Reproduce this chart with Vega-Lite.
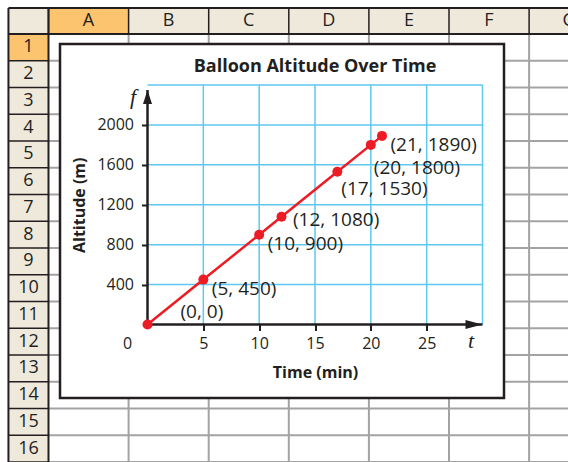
{
  "$schema": "https://vega.github.io/schema/vega-lite/v6.json",
  "width": 335,
  "height": 239.5,
  "autosize": {"type": "none"},
  "padding": {"left": 147.5, "top": 85, "right": 85.5, "bottom": 137.5},
  "background": "white",
  "config": {
    "view": {"stroke": null},
    "font": "Open Sans",
    "axis": {
      "domain": false, "grid": false,
      "tickColor": "#231f20", "tickWidth": 2, "tickSize": 6,
      "labelFont": "Open Sans", "labelFontSize": 16, "labelColor": "#231f20",
      "labelFlush": false, "labelOverlap": false,
      "titleFont": "Open Sans", "titleFontSize": 16, "titleFontWeight": "bold", "titleColor": "#231f20"
    },
    "axisX": {"labelPadding": 5, "titlePadding": 13},
    "axisY": {"labelPadding": 8, "titlePadding": 9}
  },
  "datasets": {
    "balloon": [
      {"t": 0, "alt": 0, "label": "(0, 0)"},
      {"t": 5, "alt": 450, "label": "(5, 450)"},
      {"t": 10, "alt": 900, "label": "(10, 900)"},
      {"t": 12, "alt": 1080, "label": "(12, 1080)"},
      {"t": 17, "alt": 1530, "label": "(17, 1530)"},
      {"t": 20, "alt": 1800, "label": "(20, 1800)"},
      {"t": 21, "alt": 1890, "label": "(21, 1890)"}
    ],
    "gridT": [{"t": 5}, {"t": 10}, {"t": 15}, {"t": 20}, {"t": 25}, {"t": 30}],
    "gridAlt": [{"alt": 400}, {"alt": 800}, {"alt": 1200}, {"alt": 1600}, {"alt": 2000}, {"alt": 2400}],
    "axesLines": [
      {"t": 0, "alt": 0, "t2": 30, "alt2": 0},
      {"t": 0, "alt": 0, "t2": 0, "alt2": 2350}
    ],
    "arrows": [
      {"t": 30, "alt": 0, "dir": "right"},
      {"t": 0, "alt": 2350, "dir": "up"}
    ],
    "letters": [
      {"t": 0, "alt": 2400, "txt": "f"},
      {"t": 30, "alt": 0, "txt": "t"}
    ],
    "originLabel": [{"t": 0, "alt": 0, "txt": "0"}],
    "titleRow": [{"t": 15, "alt": 2400, "txt": "Balloon Altitude Over Time"}],
    "sheetFills": [
      {"x0": -0.5, "x1": 7, "y0": -0.97, "y1": 0, "part": "header"},
      {"x0": -0.5, "x1": 0, "y0": 0, "y1": 16, "part": "header"},
      {"x0": 0, "x1": 1, "y0": -0.97, "y1": 0, "part": "active"},
      {"x0": -0.5, "x1": 0, "y0": 0, "y1": 1, "part": "active"}
    ],
    "sheetCols": [
      {"col": "A", "i": 0}, {"col": "B", "i": 1}, {"col": "C", "i": 2}, {"col": "D", "i": 3},
      {"col": "E", "i": 4}, {"col": "F", "i": 5}, {"col": "G", "i": 6}
    ],
    "sheetRows": [
      {"row": 1}, {"row": 2}, {"row": 3}, {"row": 4}, {"row": 5}, {"row": 6}, {"row": 7}, {"row": 8},
      {"row": 9}, {"row": 10}, {"row": 11}, {"row": 12}, {"row": 13}, {"row": 14}, {"row": 15}, {"row": 16}
    ],
    "sheetFrame": [
      {"x0": -0.5, "x1": -0.5, "y0": -0.97, "y1": 16},
      {"x0": 0, "x1": 0, "y0": -0.97, "y1": 16},
      {"x0": -0.5, "x1": 7, "y0": -0.97, "y1": -0.97},
      {"x0": -0.5, "x1": 7, "y0": 0, "y1": 0}
    ],
    "chartFrame": [{"x0": 0.1436, "x1": 5.6866, "y0": 0.3738, "y1": 13.607}]
  },
  "layer": [
    {
      "layer": [
        {
          "data": {"name": "sheetFills"},
          "mark": {"type": "rect"},
          "encoding": {
            "x": {"field": "x0", "type": "quantitative", "scale": {"domain": [1.236, 5.4182], "nice": false, "zero": false}, "axis": null},
            "x2": {"field": "x1"},
            "y": {"field": "y0", "type": "quantitative", "scale": {"domain": [1.9065, 10.8598], "reverse": true, "nice": false, "zero": false}, "axis": null},
            "y2": {"field": "y1"},
            "color": {"field": "part", "type": "nominal", "scale": {"domain": ["header", "active"], "range": ["#efe9dc", "#fcc46f"]}, "legend": null}
          }
        },
        {
          "data": {"name": "sheetCols"},
          "transform": [{"filter": "datum.i > 0"}],
          "mark": {"type": "rule", "color": "#a3a3a3", "strokeWidth": 2},
          "encoding": {
            "x": {"field": "i", "type": "quantitative", "scale": {"domain": [1.236, 5.4182], "nice": false, "zero": false}, "axis": null},
            "y": {"datum": 0, "type": "quantitative", "scale": {"domain": [1.9065, 10.8598], "reverse": true, "nice": false, "zero": false}, "axis": null},
            "y2": {"datum": 16}
          }
        },
        {
          "data": {"name": "sheetRows"},
          "mark": {"type": "rule", "color": "#a3a3a3", "strokeWidth": 2},
          "encoding": {
            "y": {"field": "row", "type": "quantitative", "scale": {"domain": [1.9065, 10.8598], "reverse": true, "nice": false, "zero": false}, "axis": null},
            "x": {"datum": 0, "type": "quantitative", "scale": {"domain": [1.236, 5.4182], "nice": false, "zero": false}, "axis": null},
            "x2": {"datum": 7}
          }
        },
        {
          "data": {"name": "sheetCols"},
          "mark": {"type": "rule", "color": "#231f20", "strokeWidth": 1.5},
          "encoding": {
            "x": {"field": "i", "type": "quantitative", "scale": {"domain": [1.236, 5.4182], "nice": false, "zero": false}, "axis": null},
            "y": {"datum": -0.97, "type": "quantitative", "scale": {"domain": [1.9065, 10.8598], "reverse": true, "nice": false, "zero": false}, "axis": null},
            "y2": {"datum": 0}
          }
        },
        {
          "data": {"name": "sheetRows"},
          "mark": {"type": "rule", "color": "#231f20", "strokeWidth": 1.5},
          "encoding": {
            "y": {"field": "row", "type": "quantitative", "scale": {"domain": [1.9065, 10.8598], "reverse": true, "nice": false, "zero": false}, "axis": null},
            "x": {"datum": -0.5, "type": "quantitative", "scale": {"domain": [1.236, 5.4182], "nice": false, "zero": false}, "axis": null},
            "x2": {"datum": 0}
          }
        },
        {
          "data": {"name": "sheetFrame"},
          "mark": {"type": "rule", "color": "#231f20", "strokeWidth": 2},
          "encoding": {
            "x": {"field": "x0", "type": "quantitative", "scale": {"domain": [1.236, 5.4182], "nice": false, "zero": false}, "axis": null},
            "x2": {"field": "x1"},
            "y": {"field": "y0", "type": "quantitative", "scale": {"domain": [1.9065, 10.8598], "reverse": true, "nice": false, "zero": false}, "axis": null},
            "y2": {"field": "y1"}
          }
        },
        {
          "data": {"name": "sheetCols"},
          "mark": {"type": "text", "fontSize": 18, "font": "Open Sans", "color": "#231f20", "dx": 40, "dy": -13, "align": "center", "baseline": "middle"},
          "encoding": {
            "x": {"field": "i", "type": "quantitative", "scale": {"domain": [1.236, 5.4182], "nice": false, "zero": false}, "axis": null},
            "y": {"datum": 0, "type": "quantitative", "scale": {"domain": [1.9065, 10.8598], "reverse": true, "nice": false, "zero": false}, "axis": null},
            "text": {"field": "col"}
          }
        },
        {
          "data": {"name": "sheetRows"},
          "mark": {"type": "text", "fontSize": 18, "font": "Open Sans", "color": "#231f20", "dx": 20, "dy": -13.4, "align": "center", "baseline": "middle"},
          "encoding": {
            "y": {"field": "row", "type": "quantitative", "scale": {"domain": [1.9065, 10.8598], "reverse": true, "nice": false, "zero": false}, "axis": null},
            "x": {"datum": -0.5, "type": "quantitative", "scale": {"domain": [1.236, 5.4182], "nice": false, "zero": false}, "axis": null},
            "text": {"field": "row"}
          }
        },
        {
          "data": {"name": "chartFrame"},
          "mark": {"type": "rect", "fill": "white", "stroke": "#231f20", "strokeWidth": 2.5},
          "encoding": {
            "x": {"field": "x0", "type": "quantitative", "scale": {"domain": [1.236, 5.4182], "nice": false, "zero": false}, "axis": null},
            "x2": {"field": "x1"},
            "y": {"field": "y0", "type": "quantitative", "scale": {"domain": [1.9065, 10.8598], "reverse": true, "nice": false, "zero": false}, "axis": null},
            "y2": {"field": "y1"}
          }
        }
      ]
    },
    {
      "layer": [
        {
          "data": {"name": "gridT"},
          "mark": {"type": "rule", "color": "#5ec8ef", "strokeWidth": 1.5},
          "encoding": {
            "x": {"field": "t", "type": "quantitative", "scale": {"domain": [0, 30], "nice": false, "zero": false}, "axis": {"zindex": 1}},
            "y": {"datum": 0, "type": "quantitative", "scale": {"domain": [0, 2400], "nice": false}, "axis": {"zindex": 1}},
            "y2": {"datum": 2400}
          }
        },
        {
          "data": {"name": "gridAlt"},
          "mark": {"type": "rule", "color": "#5ec8ef", "strokeWidth": 1.5},
          "encoding": {
            "y": {"field": "alt", "type": "quantitative", "scale": {"domain": [0, 2400], "nice": false}, "axis": {"zindex": 1}},
            "x": {"datum": 0, "type": "quantitative", "scale": {"domain": [0, 30], "nice": false, "zero": false}, "axis": {"zindex": 1}},
            "x2": {"datum": 30}
          }
        },
        {
          "data": {"name": "axesLines"},
          "mark": {"type": "rule", "color": "#231f20", "strokeWidth": 2.5},
          "encoding": {
            "x": {"field": "t", "type": "quantitative", "scale": {"domain": [0, 30], "nice": false, "zero": false}, "axis": {"zindex": 1}},
            "x2": {"field": "t2"},
            "y": {"field": "alt", "type": "quantitative", "scale": {"domain": [0, 2400], "nice": false}, "axis": {"zindex": 1}},
            "y2": {"field": "alt2"}
          }
        },
        {
          "data": {"name": "arrows"},
          "mark": {"type": "point", "filled": true, "opacity": 1, "size": 100, "color": "#231f20", "strokeWidth": 0},
          "encoding": {
            "x": {"field": "t", "type": "quantitative", "scale": {"domain": [0, 30], "nice": false, "zero": false}, "axis": {"zindex": 1}},
            "y": {"field": "alt", "type": "quantitative", "scale": {"domain": [0, 2400], "nice": false}, "axis": {"zindex": 1}},
            "shape": {"field": "dir", "type": "nominal", "scale": {"domain": ["right", "up"], "range": ["M0,0L-3.4,-0.9L-3.4,0.9Z", "M0,0L-0.9,2.8L0.9,2.8Z"]}, "legend": null}
          }
        },
        {
          "data": {"name": "balloon"},
          "mark": {"type": "line", "color": "#ed1c24", "strokeWidth": 2.5},
          "encoding": {
            "x": {
              "field": "t", "type": "quantitative",
              "scale": {"domain": [0, 30], "nice": false, "zero": false},
              "axis": {"zindex": 1, "title": "Time (min)", "values": [5, 10, 15, 20, 25], "format": "d"}
            },
            "y": {
              "field": "alt", "type": "quantitative",
              "scale": {"domain": [0, 2400], "nice": false},
              "axis": {"zindex": 1, "title": "Altitude (m)", "values": [400, 800, 1200, 1600, 2000], "format": "d"}
            }
          }
        },
        {
          "data": {"name": "balloon"},
          "mark": {"type": "point", "filled": true, "opacity": 1, "size": 100, "color": "#ed1c24", "strokeWidth": 0},
          "encoding": {
            "x": {"field": "t", "type": "quantitative", "scale": {"domain": [0, 30], "nice": false, "zero": false}, "axis": {"zindex": 1}},
            "y": {"field": "alt", "type": "quantitative", "scale": {"domain": [0, 2400], "nice": false}, "axis": {"zindex": 1}}
          }
        },
        {
          "data": {"name": "balloon"},
          "transform": [{"filter": "datum.t === 0"}],
          "mark": {"type": "text", "font": "Open Sans", "fontSize": 19, "color": "#231f20", "align": "left", "baseline": "middle", "dx": 33, "dy": -13},
          "encoding": {
            "x": {"field": "t", "type": "quantitative", "scale": {"domain": [0, 30], "nice": false, "zero": false}, "axis": {"zindex": 1}},
            "y": {"field": "alt", "type": "quantitative", "scale": {"domain": [0, 2400], "nice": false}, "axis": {"zindex": 1}},
            "text": {"field": "label"}
          }
        },
        {
          "data": {"name": "balloon"},
          "transform": [{"filter": "datum.t === 5 || datum.t === 10 || datum.t === 21"}],
          "mark": {"type": "text", "font": "Open Sans", "fontSize": 19, "color": "#231f20", "align": "left", "baseline": "middle", "dx": 8.5, "dy": 9},
          "encoding": {
            "x": {"field": "t", "type": "quantitative", "scale": {"domain": [0, 30], "nice": false, "zero": false}, "axis": {"zindex": 1}},
            "y": {"field": "alt", "type": "quantitative", "scale": {"domain": [0, 2400], "nice": false}, "axis": {"zindex": 1}},
            "text": {"field": "label"}
          }
        },
        {
          "data": {"name": "balloon"},
          "transform": [{"filter": "datum.t === 12"}],
          "mark": {"type": "text", "font": "Open Sans", "fontSize": 19, "color": "#231f20", "align": "left", "baseline": "middle", "dx": 11.5, "dy": 3},
          "encoding": {
            "x": {"field": "t", "type": "quantitative", "scale": {"domain": [0, 30], "nice": false, "zero": false}, "axis": {"zindex": 1}},
            "y": {"field": "alt", "type": "quantitative", "scale": {"domain": [0, 2400], "nice": false}, "axis": {"zindex": 1}},
            "text": {"field": "label"}
          }
        },
        {
          "data": {"name": "balloon"},
          "transform": [{"filter": "datum.t === 17"}],
          "mark": {"type": "text", "font": "Open Sans", "fontSize": 19, "color": "#231f20", "align": "left", "baseline": "middle", "dx": 4, "dy": 17},
          "encoding": {
            "x": {"field": "t", "type": "quantitative", "scale": {"domain": [0, 30], "nice": false, "zero": false}, "axis": {"zindex": 1}},
            "y": {"field": "alt", "type": "quantitative", "scale": {"domain": [0, 2400], "nice": false}, "axis": {"zindex": 1}},
            "text": {"field": "label"}
          }
        },
        {
          "data": {"name": "balloon"},
          "transform": [{"filter": "datum.t === 20"}],
          "mark": {"type": "text", "font": "Open Sans", "fontSize": 19, "color": "#231f20", "align": "left", "baseline": "middle", "dx": 3, "dy": 23},
          "encoding": {
            "x": {"field": "t", "type": "quantitative", "scale": {"domain": [0, 30], "nice": false, "zero": false}, "axis": {"zindex": 1}},
            "y": {"field": "alt", "type": "quantitative", "scale": {"domain": [0, 2400], "nice": false}, "axis": {"zindex": 1}},
            "text": {"field": "label"}
          }
        },
        {
          "data": {"name": "originLabel"},
          "mark": {"type": "text", "font": "Open Sans", "fontSize": 16, "color": "#231f20", "align": "center", "baseline": "middle", "dx": -20, "dy": 19.5},
          "encoding": {
            "x": {"field": "t", "type": "quantitative", "scale": {"domain": [0, 30], "nice": false, "zero": false}, "axis": {"zindex": 1}},
            "y": {"field": "alt", "type": "quantitative", "scale": {"domain": [0, 2400], "nice": false}, "axis": {"zindex": 1}},
            "text": {"field": "txt"}
          }
        },
        {
          "data": {"name": "letters"},
          "transform": [{"filter": "datum.txt === 'f'"}],
          "mark": {"type": "text", "font": "Liberation Serif", "fontStyle": "italic", "fontSize": 22, "color": "#231f20", "align": "center", "baseline": "middle", "dx": -14.5, "dy": 12},
          "encoding": {
            "x": {"field": "t", "type": "quantitative", "scale": {"domain": [0, 30], "nice": false, "zero": false}, "axis": {"zindex": 1}},
            "y": {"field": "alt", "type": "quantitative", "scale": {"domain": [0, 2400], "nice": false}, "axis": {"zindex": 1}},
            "text": {"field": "txt"}
          }
        },
        {
          "data": {"name": "letters"},
          "transform": [{"filter": "datum.txt === 't'"}],
          "mark": {"type": "text", "font": "Liberation Serif", "fontStyle": "italic", "fontSize": 22, "color": "#231f20", "align": "center", "baseline": "middle", "dx": -11.5, "dy": 16.5},
          "encoding": {
            "x": {"field": "t", "type": "quantitative", "scale": {"domain": [0, 30], "nice": false, "zero": false}, "axis": {"zindex": 1}},
            "y": {"field": "alt", "type": "quantitative", "scale": {"domain": [0, 2400], "nice": false}, "axis": {"zindex": 1}},
            "text": {"field": "txt"}
          }
        },
        {
          "data": {"name": "titleRow"},
          "mark": {"type": "text", "font": "Open Sans", "fontWeight": "bold", "fontSize": 18, "color": "#231f20", "align": "center", "baseline": "middle", "dy": -18},
          "encoding": {
            "x": {"field": "t", "type": "quantitative", "scale": {"domain": [0, 30], "nice": false, "zero": false}, "axis": {"zindex": 1}},
            "y": {"field": "alt", "type": "quantitative", "scale": {"domain": [0, 2400], "nice": false}, "axis": {"zindex": 1}},
            "text": {"field": "txt"}
          }
        }
      ]
    }
  ],
  "resolve": {"scale": {"x": "independent", "y": "independent", "color": "independent", "shape": "independent"}}
}
